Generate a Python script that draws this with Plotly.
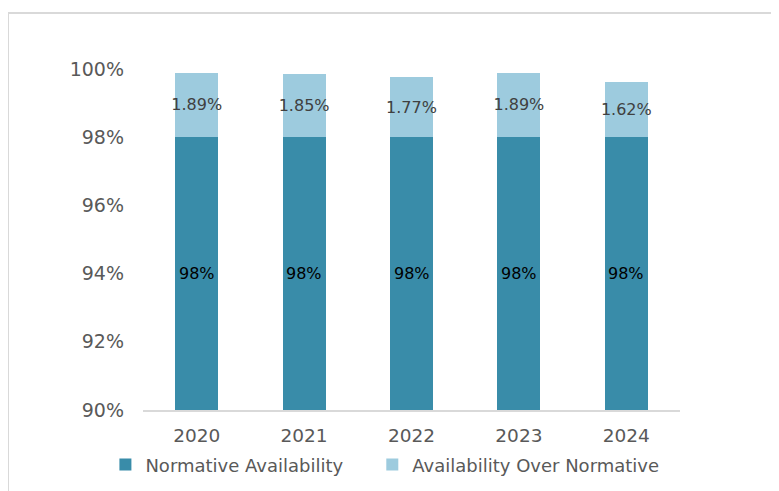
import plotly.graph_objects as go

years = ["2020", "2021", "2022", "2023", "2024"]
normative = [98, 98, 98, 98, 98]
over_normative = [1.89, 1.85, 1.77, 1.89, 1.62]
y_ticks = [90, 92, 94, 96, 98, 100]
y_tick_labels = ["90%", "92%", "94%", "96%", "98%", "100%"]
Y_MIN, Y_MAX = 90, 100

DARK = "#398CA9"
LIGHT = "#9DCBDE"
FONT = "DejaVu Sans"

fig = go.Figure()
fig.add_trace(go.Bar(
    x=years, y=normative, name="Normative Availability",
    marker=dict(color=DARK, line=dict(width=0)), legend="legend",
))
fig.add_trace(go.Bar(
    x=years, y=over_normative, name="Availability Over Normative",
    marker=dict(color=LIGHT, line=dict(width=0)), legend="legend2",
    text=[f"{v:.2f}%" for v in over_normative], textposition="inside",
    insidetextanchor="middle", textangle=0, constraintext="none",
    textfont=dict(family=FONT, size=16, color="#404040"),
))

# label of the dark segment, centred in its visible part (axis floor to top)
annotations = [
    dict(x=i, y=(Y_MIN + v) / 2, xref="x", yref="y", text=f"{v}%",
         showarrow=False, font=dict(family=FONT, size=16, color="#000000"))
    for i, v in enumerate(normative)
]

legend_common = dict(
    orientation="h", xanchor="left", y=-0.161, yanchor="middle",
    font=dict(family=FONT, size=18, color="#595959"),
    itemclick=False, itemdoubleclick=False, bgcolor="rgba(0,0,0,0)",
)

fig.update_layout(
    width=779, height=491,
    barmode="stack", bargap=0.6,
    margin=dict(l=135, r=107, t=61, b=89),
    paper_bgcolor="white", plot_bgcolor="white",
    font=dict(family=FONT, color="#595959"),
    showlegend=True,
    annotations=annotations,
    legend=dict(x=-0.07, **legend_common),
    legend2=dict(x=0.427, **legend_common),
    xaxis=dict(
        type="category", categoryorder="array", categoryarray=years,
        range=[-0.5, len(years) - 0.5],
        showgrid=False, showline=True, linecolor="#D9D9D9", linewidth=2,
        ticks="", tickfont=dict(family=FONT, size=18.5, color="#595959"),
        ticklabelstandoff=8, fixedrange=True,
    ),
    yaxis=dict(
        range=[Y_MIN, Y_MAX], tickvals=y_ticks, ticktext=y_tick_labels,
        showgrid=False, zeroline=False, showline=False, ticks="",
        tickfont=dict(family=FONT, size=19, color="#595959"),
        ticklabelstandoff=18, fixedrange=True,
    ),
    shapes=[dict(
        type="rect", xref="paper", yref="paper",
        x0=-0.2514, x1=1.5, y0=-0.6, y1=1.164,
        line=dict(color="#D9D9D9", width=2), fillcolor="rgba(0,0,0,0)",
        layer="below",
    )],
)

fig.write_html("out.html")
